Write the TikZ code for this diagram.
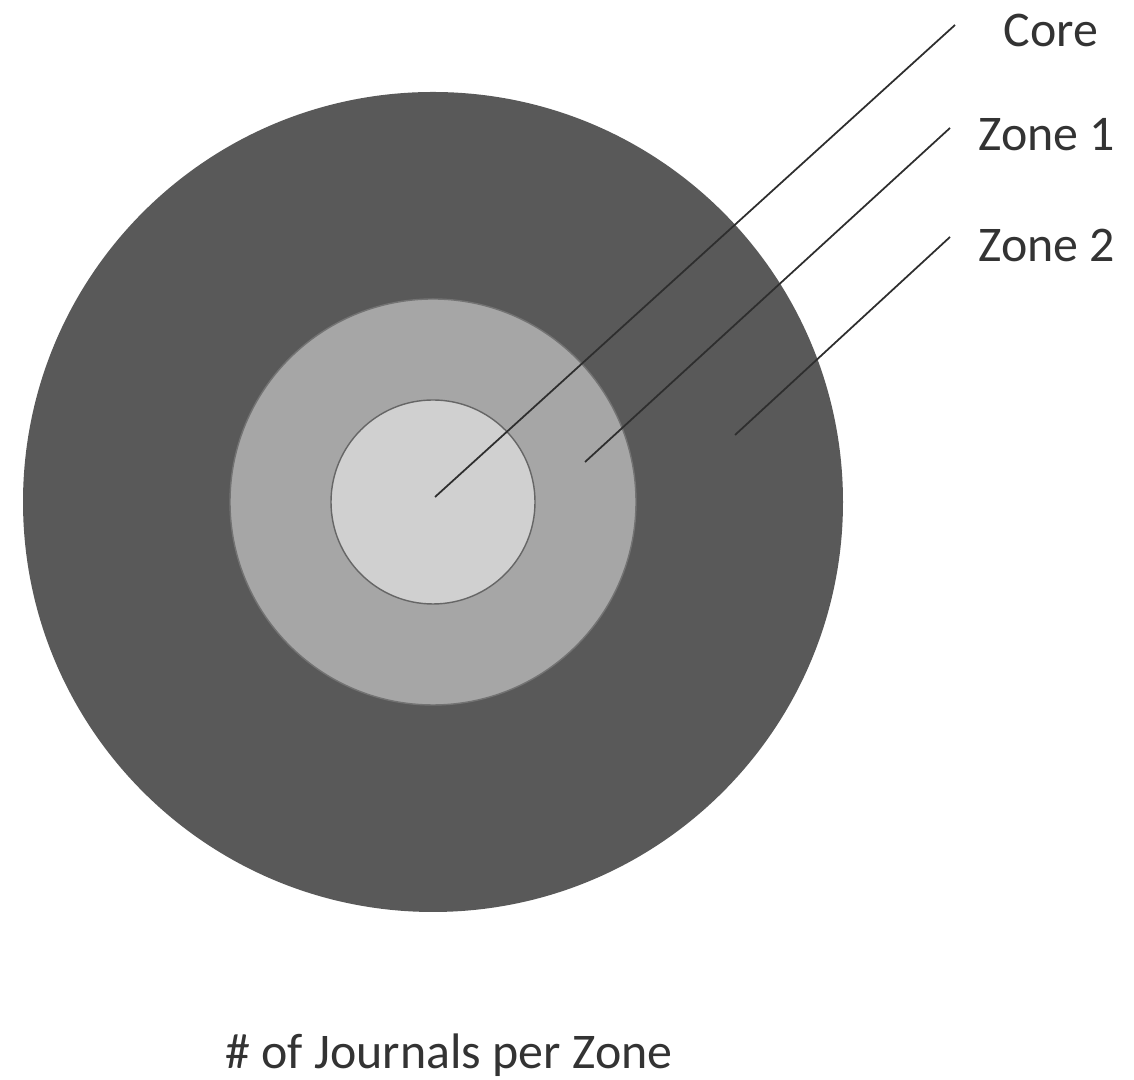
\documentclass[tikz,border=0pt]{standalone}
\usepackage{fontspec}
\setmainfont{Carlito}
\usepackage{xcolor}
\usepackage{tikz}
\usetikzlibrary{positioning,arrows.meta}

\definecolor{zonetwo}{HTML}{595959}
\definecolor{zoneone}{HTML}{A6A6A6}
\definecolor{corefill}{HTML}{D0D0D0}

\begin{document}
\begin{tikzpicture}[
  ring/.style={circle, inner sep=0pt, outer sep=0pt},
  lbl/.style={inner sep=0pt, font=\fontsize{14.2}{17}\selectfont, text=black!80},
  lead/.style={line width=0.5pt, draw=black!82}
]
  \useasboundingbox (0,0) rectangle (11.34,10.80);
  \node[ring, fill=zonetwo, minimum size=8.2cm] (outer) at (4.33,5.78) {};
  \node[ring, fill=zoneone, draw=black!55, line width=0.4pt, minimum size=4.06cm] (middle) at (outer.center) {};
  \node[ring, fill=corefill, draw=black!60, line width=0.4pt, minimum size=2.04cm] (core) at (outer.center) {};
  \coordinate (pcore) at (4.35,5.83);
  \coordinate (pone) at (5.85,6.18);
  \coordinate (ptwo) at (7.35,6.45);
  \node[lbl, anchor=west] (lcore) at (10.03,10.50) {Core};
  \node[lbl, anchor=west] (lone) at (9.78,9.45) {Zone 1};
  \node[lbl, anchor=west] (ltwo) at (9.78,8.35) {Zone 2};
  \draw[lead] (pcore) -- ([shift={(-4.8mm,0.5mm)}]lcore.west);
  \draw[lead] (pone) -- ([shift={(-2.8mm,0.7mm)}]lone.west);
  \draw[lead] (ptwo) -- ([shift={(-2.8mm,0.8mm)}]ltwo.west);
  \node[lbl] (title) at (4.49,0.25) {\# of Journals per Zone};
\end{tikzpicture}
\end{document}
